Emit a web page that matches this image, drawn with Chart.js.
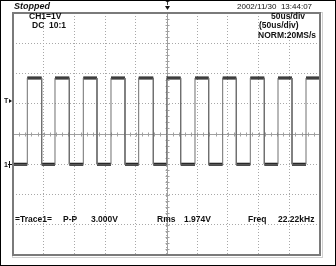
<!DOCTYPE html>
<html>
<head>
<script src="https://cdn.jsdelivr.net/npm/chart.js@4.4.1/dist/chart.umd.min.js"></script>
<style>
  html, body { margin: 0; padding: 0; background: #fff; }
  #wrap { width: 336px; height: 266px; position: relative; }
</style>
</head>
<body>
<div id="wrap"><canvas id="scope"></canvas></div>
<script>
// edge times in us (50us/div, 10 div)
const riseTimes = [23.3, 68.4, 114.5, 159.6, 204.7, 250.3, 296.4, 341.5, 386.5, 431.6, 477.2];
const fallTimes = [46.7, 91.7, 136.8, 182.4, 228.5, 273.1, 318.7, 363.7, 409.3, 454.4];
const lowLevel = 0;      // V
const highLevel = 2.85;  // V
const timeRange = [0, 500];
const voltRange = [-3, 5];

// header / readout texts
const headLeft = ["CH1=1V", "DC  10:1"];
const headRight = ["50us/div", "(50us/div)", "NORM:20MS/s"];
const readout = [["=Trace1=", 15], ["P-P", 63], ["3.000V", 91], ["Rms", 157], ["1.974V", 184], ["Freq", 248], ["22.22kHz", 278]];

// full trace (stepped)
let trace = [{x: timeRange[0], y: lowLevel}];
for (let i = 0; i < riseTimes.length; i++) {
    trace.push({x: riseTimes[i], y: lowLevel});
    trace.push({x: riseTimes[i], y: highLevel});
    if (i < fallTimes.length) {
        trace.push({x: fallTimes[i], y: highLevel});
        trace.push({x: fallTimes[i], y: lowLevel});
    }
}
trace.push({x: timeRange[1], y: highLevel});

// flat parts only, drawn darker / thicker like the noisy trace
let flats = [];
for (let i = 0; i < trace.length - 1; i++) {
    if (trace[i].y === trace[i + 1].y && trace[i].x !== trace[i + 1].x) {
        flats.push(trace[i], trace[i + 1], {x: trace[i + 1].x, y: null});
    }
}

const FONT = "'Liberation Sans', Arial, sans-serif";

const scopeDeco = {
    id: "scopeDeco",
    beforeDatasetsDraw(chart) {
        const {ctx, chartArea: a, scales: {x, y}} = chart;
        ctx.save();
        // center lines with minor ticks
        const cx = Math.round(x.getPixelForValue(250)) + 0.5, cy = Math.round(y.getPixelForValue(1)) + 0.5;
        ctx.strokeStyle = "#a0a0a0";
        ctx.lineWidth = 1;
        ctx.beginPath();
        ctx.moveTo(a.left, cy); ctx.lineTo(a.right, cy);
        ctx.moveTo(cx, a.top); ctx.lineTo(cx, a.bottom);
        for (let t = 0; t <= 500; t += 10) {
            const px = Math.round(x.getPixelForValue(t)) + 0.5;
            ctx.moveTo(px, cy - 2); ctx.lineTo(px, cy + 2);
        }
        for (let v = -3; v <= 5; v += 0.2) {
            const py = Math.round(y.getPixelForValue(v)) + 0.5;
            ctx.moveTo(cx - 2, py); ctx.lineTo(cx + 2, py);
        }
        ctx.stroke();
        ctx.restore();
    },
    afterDraw(chart) {
        const {ctx, chartArea: a, scales: {x, y}} = chart;
        ctx.save();
        // frame with a light shadow line
        ctx.strokeStyle = "#d0d0d0";
        ctx.lineWidth = 1;
        ctx.strokeRect(a.left - 0.5, a.top - 0.5, a.right - a.left + 3, a.bottom - a.top + 3);
        ctx.strokeStyle = "#7a7a7a";
        ctx.lineWidth = 2;
        ctx.strokeRect(a.left, a.top, a.right - a.left, a.bottom - a.top);
        // outer black border
        ctx.strokeStyle = "#000";
        ctx.lineWidth = 1;
        ctx.strokeRect(0.5, 0.5, chart.width - 1, chart.height - 1);

        ctx.fillStyle = "#111";
        ctx.textBaseline = "middle";
        ctx.font = "italic bold 9px " + FONT;
        ctx.fillText("Stopped", 14, 7);
        ctx.font = "8px " + FONT;
        ctx.fillText("2002/11/30  13:44:07", 237, 7);

        ctx.font = "bold 8.5px " + FONT;
        ctx.fillText(headLeft[0], 29, 17);
        ctx.fillText(headLeft[1], 32, 26);
        ctx.fillText(headRight[0], 271, 17);
        ctx.fillText(headRight[1], 259, 26);
        ctx.fillText(headRight[2], 258, 35.5);
        readout.forEach(r => ctx.fillText(r[0], r[1], 220));

        // trigger position marker at top
        const cx = Math.round(x.getPixelForValue(250)) + 0.5;
        ctx.font = "bold 6px " + FONT;
        ctx.textAlign = "center";
        ctx.fillText("T", cx, 3.5);
        ctx.beginPath();
        ctx.moveTo(cx - 2.5, 6); ctx.lineTo(cx + 2.5, 6); ctx.lineTo(cx, 10); ctx.closePath();
        ctx.fill();

        // trigger level marker and ground marker on the left
        ctx.textAlign = "left";
        const ty = Math.round(y.getPixelForValue(2.1));
        ctx.font = "bold 7px " + FONT;
        ctx.fillText("T", 4, ty);
        ctx.beginPath();
        ctx.moveTo(9, ty - 2); ctx.lineTo(12, ty); ctx.lineTo(9, ty + 2); ctx.closePath();
        ctx.fill();
        const gy = Math.round(y.getPixelForValue(0));
        ctx.fillText("1", 4, gy + 1);
        ctx.fillRect(8, gy, 4, 1);
        ctx.fillRect(9, gy - 3, 1, 7);
        ctx.restore();
    }
};

new Chart(document.getElementById("scope"), {
    type: "line",
    data: {
        datasets: [
            {data: trace, borderColor: "#707070", borderWidth: 1, pointRadius: 0, tension: 0},
            {data: flats, borderColor: "#111", borderWidth: 3, pointRadius: 0, tension: 0, spanGaps: false}
        ]
    },
    options: {
        responsive: true,
        maintainAspectRatio: false,
        animation: false,
        layout: {padding: {left: 13, top: 13, right: 16, bottom: 11}},
        plugins: {legend: {display: false}, tooltip: {enabled: false}},
        scales: {
            x: {
                type: "linear", min: timeRange[0], max: timeRange[1],
                ticks: {display: false, stepSize: 50},
                grid: {color: "#a8a8a8", lineWidth: 1, drawTicks: false},
                border: {display: false, dash: [1, 2]}
            },
            y: {
                type: "linear", min: voltRange[0], max: voltRange[1],
                ticks: {display: false, stepSize: 1},
                grid: {color: "#a8a8a8", lineWidth: 1, drawTicks: false},
                border: {display: false, dash: [1, 2]}
            }
        }
    },
    plugins: [scopeDeco]
});
</script>
</body>
</html>
